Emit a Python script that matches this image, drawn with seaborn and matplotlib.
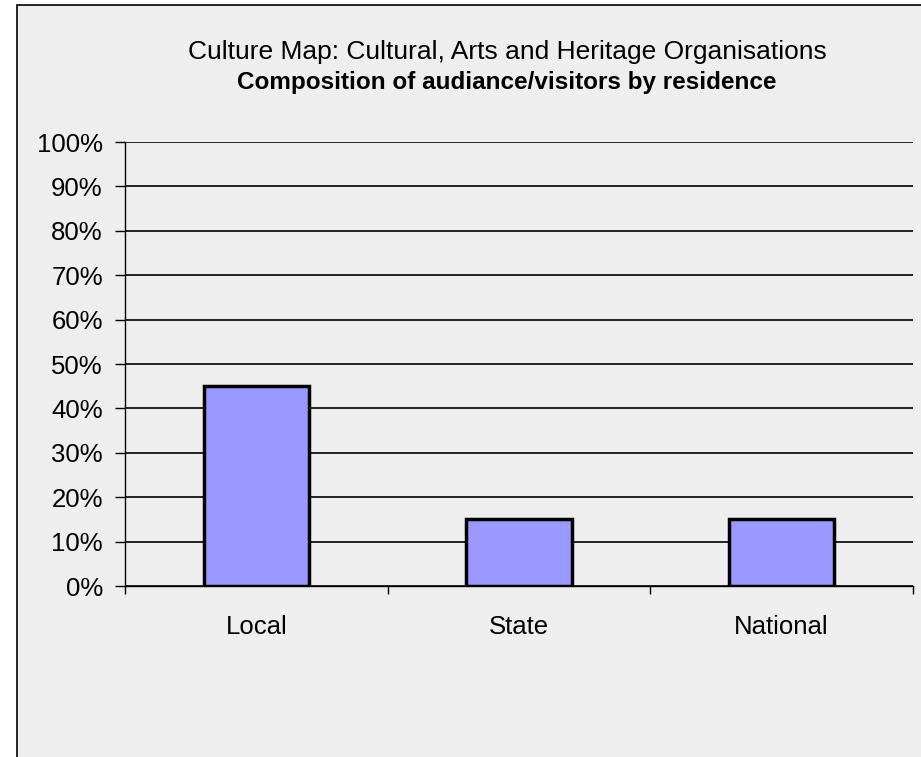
import matplotlib
matplotlib.use('Agg')
import matplotlib.pyplot as plt
import seaborn as sns
import pandas as pd
from matplotlib.patches import Rectangle

# Chart data
categories = ['Local', 'State', 'National']
shares = [45, 15, 15]
y_ticks = list(range(0, 101, 10))
y_tick_labels = [f'{t}%' for t in y_ticks]

df = pd.DataFrame({'residence': categories, 'share': shares})

sns.set_theme(style='white')
plt.rcParams['font.family'] = ['Liberation Sans', 'DejaVu Sans']
plt.rcParams['text.color'] = 'black'
plt.rcParams['xtick.color'] = 'black'
plt.rcParams['ytick.color'] = 'black'

bg = '#EEEEEE'
fig = plt.figure(figsize=(9.21, 7.57), dpi=100, facecolor='white')

# outer chart frame, kept behind the axes
fig.patches.append(Rectangle((17 / 921, -0.05), 1.0, 1.05 - 5 / 757, transform=fig.transFigure,
                             facecolor=bg, edgecolor='black', linewidth=1.2, zorder=-10))

ax = fig.add_axes([125 / 921, 1 - 586 / 757, (913 - 125) / 921, (586 - 142) / 757])
ax.set_facecolor(bg)

sns.barplot(data=df, x='residence', y='share', color='#9999FF', width=0.4,
            edgecolor='black', linewidth=2.5, saturation=1, ax=ax, zorder=3)

ax.set_ylim(0, 100)
ax.set_xlim(-0.5, 2.5)
ax.set_yticks(y_ticks)
ax.set_yticklabels(y_tick_labels, fontsize=18.5, color='black')
ax.yaxis.grid(True, color='black', linewidth=1.2)
ax.set_axisbelow(True)

# category boundary ticks
ax.set_xticks([-0.5, 0.5, 1.5, 2.5], minor=True)
ax.set_xticks(range(len(categories)))
ax.set_xticklabels(categories, fontsize=18.5, color='black')
ax.tick_params(axis='x', which='major', length=0, pad=21)
ax.tick_params(axis='x', which='minor', length=6, width=1, color='black', direction='out', bottom=True)
ax.tick_params(axis='y', length=7, width=1, color='black', direction='out', left=True, pad=9)

for side in ['top', 'right']:
    ax.spines[side].set_visible(False)
for side in ['left', 'bottom']:
    ax.spines[side].set_color('black')
    ax.spines[side].set_linewidth(1)

ax.set_xlabel('')
ax.set_ylabel('')

fig.text(507 / 921, 1 - 52 / 757, 'Culture Map: Cultural, Arts and Heritage Organisations',
         ha='center', va='center', fontsize=19, color='black')
fig.text(507 / 921, 1 - 82 / 757, 'Composition of audiance/visitors by residence',
         ha='center', va='center', fontsize=17.5, fontweight='bold', color='black')

fig.savefig('out.png', dpi=100, facecolor='white')
